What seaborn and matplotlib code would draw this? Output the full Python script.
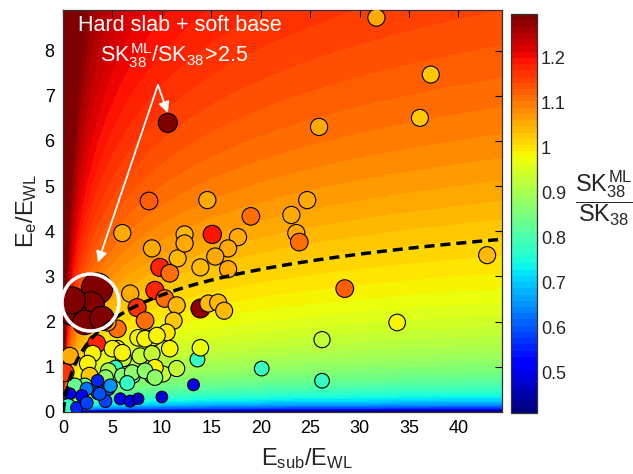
import numpy as np
import pandas as pd
import matplotlib
matplotlib.use("Agg")
import matplotlib.pyplot as plt
import seaborn as sns
from matplotlib.colors import Normalize

# ---------------- data ----------------
esub = [31.7, 37.2, 36.1, 25.9, 10.6, 8.7, 14.6, 24.7, 19.0, 23.1,
        6.0, 12.3, 15.1, 17.7, 23.6, 23.9, 42.9, 16.7, 15.4, 11.6,
        28.5, 33.8, 26.2, 26.2, 20.1, 13.2, 10.0, 13.6, 13.9,
        9.8, 10.8, 13.9, 16.7, 9.3, 10.3, 11.5, 13.9, 14.7, 15.7, 16.3,
        11.2, 10.5, 9.0, 12.3, 6.8, 7.5, 8.3, 5.5, 3.4, 0.7, 0.2,
        3.0, 2.5, 5.5, 7.6, 9.1, 10.8, 6.1, 7.8, 10.1, 11.5, 9.0, 2.7,
        5.3, 7.1, 8.3, 9.5, 4.5, 5.0, 6.0, 9.0, 9.3, 4.6, 4.3, 6.0,
        7.0, 8.3, 9.3, 6.5, 2.2, 1.2, 3.5, 3.5, 2.4, 4.6, 4.3, 1.9,
        0.7, 0.0, 0.5, 1.4, 2.4, 5.8, 6.8, 7.6, 3.7, 4.8,
        3.44, 2.83, 1.0, 2.2, 3.95, 0.9]
ee = [8.73, 7.47, 6.51, 6.31, 6.40, 4.67, 4.69, 4.69, 4.33, 4.36,
      3.96, 3.93, 3.93, 3.87, 3.96, 3.76, 3.47, 3.62, 3.44, 3.40,
      2.73, 1.98, 1.60, 0.69, 0.96, 0.60, 0.33, 1.16, 1.42,
      3.20, 3.07, 3.20, 3.16, 2.69, 2.51, 2.36, 2.29, 2.40, 2.42, 2.24,
      2.02, 1.76, 3.62, 3.73, 2.62, 2.31, 2.02, 1.84, 1.51, 1.24, 0.87,
      1.29, 1.07, 1.40, 1.64, 1.64, 1.40, 1.18, 1.24, 0.84, 0.96, 0.80, 0.80,
      0.98, 0.80, 1.62, 1.69, 1.98, 1.40, 1.31, 1.29, 0.98, 0.91, 0.76, 0.80,
      0.87, 0.91, 0.76, 0.64, 0.58, 0.58, 0.69, 0.42, 0.51, 0.51, 0.24, 0.36,
      0.40, 0.13, 0.13, 0.09, 0.20, 0.29, 0.24, 0.29, 0.40, 0.58,
      2.73, 2.36, 2.20, 1.98, 2.07, 2.47]
ratio = [1.055, 1.03, 1.03, 1.055, 1.30, 1.12, 1.055, 1.055, 1.11, 1.055,
         1.055, 1.04, 1.19, 1.055, 1.055, 1.11, 1.04, 1.055, 1.055, 1.04,
         1.12, 0.985, 0.93, 0.77, 0.77, 0.50, 0.48, 0.78, 0.97,
         1.18, 1.11, 1.04, 1.055, 1.18, 1.11, 1.04, 1.28, 1.04, 1.04, 1.04,
         1.02, 1.00, 1.055, 1.055, 1.055, 1.16, 1.11, 1.11, 1.18, 1.055, 1.16,
         0.98, 0.98, 0.985, 0.985, 0.985, 0.98, 0.93, 0.93, 0.93, 0.93, 0.85, 1.02,
         0.78, 0.78, 0.985, 0.985, 1.055, 0.98, 0.98, 0.93, 0.98, 0.90, 0.87, 0.86,
         0.88, 0.88, 0.87, 0.78, 0.83, 0.83, 0.55, 0.60, 0.62, 0.60, 0.58, 0.52,
         0.50, 0.78, 0.78, 0.55, 0.58, 0.50, 0.50, 0.47, 0.60, 0.65,
         3.50, 2.60, 2.50, 2.10, 2.10, 2.60]

x_ticks = [0, 5, 10, 15, 20, 25, 30, 35, 40]
y_ticks = [0, 1, 2, 3, 4, 5, 6, 7, 8]
cbar_ticks = [0.5, 0.6, 0.7, 0.8, 0.9, 1.0, 1.1, 1.2]
cbar_labels = ["0.5", "0.6", "0.7", "0.8", "0.9", "1", "1.1", "1.2"]

# model surface parameters (read from the background / dashed contour)
CURVE_SCALE = 2.0      # contour shape  Ee ~ ln(1 + 2 Esub)
DASH_LEVEL = 1.016     # level of the dashed contour
S_DASH = 0.85          # shape factor of the dashed contour
K_LO = 0.115           # log-slope below the dashed contour
K_HI = 0.15            # log-slope above the dashed contour
VMIN, VMAX = 0.41, 1.295
XLIM = (0, 44.4)
YLIM = (0, 8.9)
AREA_PER_UNIT = 145    # marker area (pt^2) per unit of the ratio

# ---------------- style ----------------
sns.set_style("white")
plt.rcParams["font.family"] = ["Liberation Sans", "DejaVu Sans"]
plt.rcParams["mathtext.fontset"] = "custom"
plt.rcParams["mathtext.rm"] = "Liberation Sans"
plt.rcParams["mathtext.it"] = "Liberation Sans"
plt.rcParams["mathtext.bf"] = "Liberation Sans:bold"

cmap = plt.get_cmap("jet", 64)
norm = Normalize(VMIN, VMAX)

fig = plt.figure(figsize=(6.33, 4.74), dpi=100)
ax = fig.add_axes([0.0995, 0.131, 0.6935, 0.848])
cax = fig.add_axes([0.807, 0.129, 0.041, 0.841])

# background surface
xs = np.linspace(1e-3, XLIM[1], 700)
ys = np.linspace(1e-3, YLIM[1], 700)
X, Y = np.meshgrid(xs, ys)
T = np.log(Y / (S_DASH * np.log1p(CURVE_SCALE * X)))
F = DASH_LEVEL + np.where(T < 0, K_LO * T, K_HI * T)
im = ax.imshow(F, extent=[xs[0], xs[-1], ys[0], ys[-1]], origin="lower",
               cmap=cmap, norm=norm, aspect="auto", interpolation="nearest",
               zorder=0)

df = pd.DataFrame({"esub": esub, "ee": ee, "ratio": ratio})
rmin, rmax = min(ratio), max(ratio)
sns.scatterplot(data=df, x="esub", y="ee", hue="ratio", size="ratio",
                palette=cmap, hue_norm=norm,
                sizes=(AREA_PER_UNIT * rmin, AREA_PER_UNIT * rmax),
                size_norm=(rmin, rmax),
                edgecolor="black", linewidth=0.8, legend=False, ax=ax,
                zorder=3)

cs = ax.contour(X, Y, F, levels=[DASH_LEVEL], colors="black",
                linewidths=2.5, zorder=4)
cs.set_linestyle((0, (2.9, 1.7)))

# highlight circle and annotations
ax.plot([2.73], [2.43], marker="o", ms=41, mfc="none", mec="white",
        mew=2.5, zorder=6, clip_on=False)
ax.text(11.8, 8.56, "Hard slab + soft base", color="white", fontsize=15.5,
        ha="center", va="center", zorder=7)
ax.text(11.2, 7.88, r"$SK^{ML}_{38}/SK_{38}\!>\!2.5$", color="white",
        fontsize=15.5, ha="center", va="center", zorder=7)
ax.annotate("", xy=(10.6, 6.62), xytext=(9.6, 7.24),
            arrowprops=dict(arrowstyle="-|>", color="white", lw=1.3,
                            mutation_scale=16, shrinkA=0, shrinkB=0),
            zorder=7)
ax.annotate("", xy=(3.54, 3.31), xytext=(9.6, 7.24),
            arrowprops=dict(arrowstyle="-|>", color="white", lw=1.3,
                            mutation_scale=16, shrinkA=0, shrinkB=0),
            zorder=7)

ax.set_xlim(*XLIM)
ax.set_ylim(*YLIM)
ax.set_xticks(x_ticks)
ax.set_yticks(y_ticks)
ax.tick_params(direction="in", length=5, width=0.8, top=True, right=True,
               labelsize=13, colors="black", pad=6)
for sp in ax.spines.values():
    sp.set_color("#333333")
    sp.set_linewidth(0.9)
ax.set_xlabel(r"$E_{sub}/E_{WL}$", fontsize=17)
ax.xaxis.set_label_coords((307 - 63) / 439, -0.085)
ax.set_ylabel(r"$E_{e}/E_{WL}$", fontsize=17, labelpad=4)

cb = fig.colorbar(im, cax=cax, ticks=cbar_ticks)
cb.ax.set_yticklabels(cbar_labels)
cb.ax.tick_params(direction="in", length=4, width=0.8, left=True, right=True,
                  labelsize=13, pad=3)
cb.outline.set_edgecolor("#333333")
cb.outline.set_linewidth(0.9)

fig.text(0.954, 1 - 198 / 474, r"$\dfrac{SK^{ML}_{38}}{SK_{38}}$",
         fontsize=17, ha="center", va="center")

fig.savefig("out.png", dpi=100)
